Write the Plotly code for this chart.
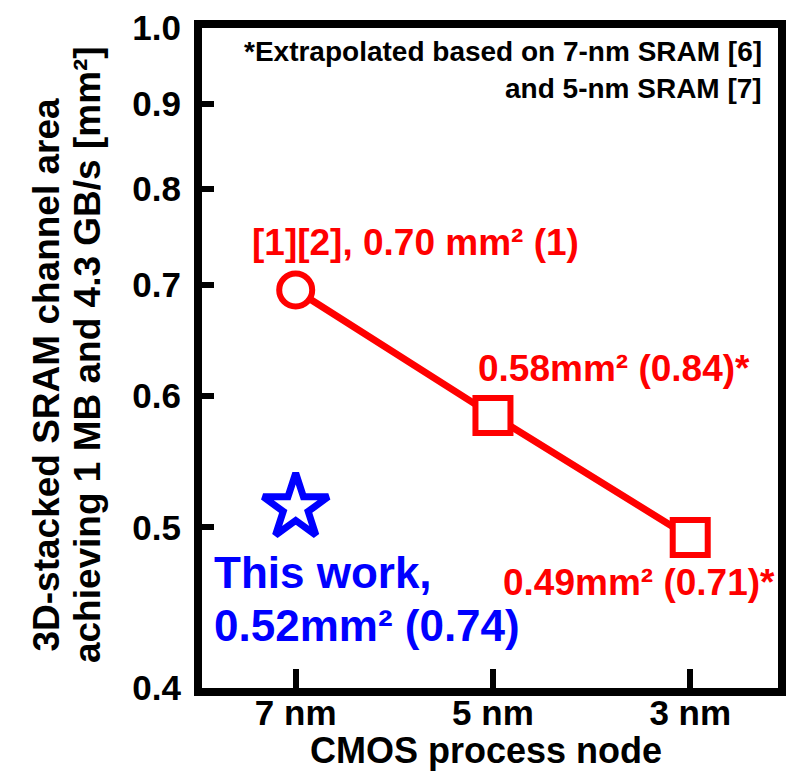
import plotly.graph_objects as go

# ---- data ----
nodes = ["7 nm", "5 nm", "3 nm"]
node_pos = [0, 1, 2]
prior_area = [0.695, 0.584, 0.493]          # mm^2, [1][2] measured / extrapolated
prior_symbols = ["circle", "square", "square"]
prior_sizes = [33, 35, 35]
this_work_pos = [0]
this_work_area = [0.514]
y_ticks = [0.4, 0.5, 0.6, 0.7, 0.8, 0.9, 1.0]
y_tick_text = ["0.4", "0.5", "0.6", "0.7", "0.8", "0.9", "1.0"]

W, H = 794, 772
ML, MR, MT, MB = 202, 8, 23, 84
PW, PH = W - ML - MR, H - MT - MB

def px(x):
    return (x - ML) / PW

def py(y):
    return (MT + PH - y) / PH

RED = "#ff0000"
BLUE = "#0000ff"
FONT = "Liberation Sans, Arial, sans-serif"

fig = go.Figure()
fig.add_trace(go.Scatter(
    x=node_pos, y=prior_area, mode="lines",
    line=dict(color=RED, width=7),
    showlegend=False, hoverinfo="skip"))
fig.add_trace(go.Scatter(
    x=node_pos, y=prior_area, mode="markers",
    marker=dict(symbol=prior_symbols, size=prior_sizes, color="white", opacity=1,
                line=dict(color=RED, width=6)),
    showlegend=False, hoverinfo="skip"))
fig.add_trace(go.Scatter(
    x=this_work_pos, y=this_work_area, mode="markers",
    marker=dict(symbol="star", size=49, color="white", opacity=1,
                line=dict(color=BLUE, width=7)),
    showlegend=False, hoverinfo="skip"))

ann = []
def add(text, x, y, size, color="black", xanchor="center", angle=0, family=FONT):
    ann.append(dict(text=text, x=px(x), y=py(y), xref="paper", yref="paper",
                    xanchor=xanchor, yanchor="middle", showarrow=False,
                    textangle=angle, borderpad=0,
                    font=dict(family=family, size=size, color=color, weight="bold")))

add("[1][2], 0.70 mm² (1)", 418, 239, 37, RED)
add("0.58mm² (0.84)*", 620, 366, 37, RED)
add("0.49mm² (0.71)*", 645, 582, 37, RED)
add("This work,", 213, 572, 44, BLUE, xanchor="left")
add("0.52mm² (0.74)", 213, 625, 44, BLUE, xanchor="left")
add("*Extrapolated based on 7-nm SRAM [6]", 771, 47, 28, xanchor="right")
add("and 5-nm SRAM [7]", 771, 84, 28, xanchor="right")
add("3D-stacked SRAM channel area", 44, 372, 37, angle=-90)
add("achieving 1 MB and 4.3 GB/s [mm²]", 86, 352, 37, angle=-90)
add("CMOS process node", 490, 751, 36)

fig.update_layout(
    width=W, height=H,
    margin=dict(l=ML, r=MR, t=MT, b=MB, pad=0),
    plot_bgcolor="white", paper_bgcolor="white",
    annotations=ann,
    xaxis=dict(range=[-0.475, 2.445], tickvals=node_pos, ticktext=nodes,
               showgrid=False, zeroline=False,
               showline=True, linecolor="black", linewidth=8, mirror=True,
               ticks="inside", ticklen=19, tickwidth=6, tickcolor="black",
               ticklabelstandoff=-13,
               tickfont=dict(family=FONT, size=35, color="black", weight="bold")),
    yaxis=dict(type="log", range=[-0.39794, 0.0], tickvals=y_ticks, ticktext=y_tick_text,
               showgrid=False, zeroline=False,
               showline=True, linecolor="black", linewidth=8, mirror=True,
               ticks="inside", ticklen=12, tickwidth=6, tickcolor="black",
               ticklabelstandoff=6,
               tickfont=dict(family=FONT, size=35, color="black", weight="bold")),
)

fig.write_html("out.html", config={"displayModeBar": False},
               post_script="document.body.style.margin='0';")
